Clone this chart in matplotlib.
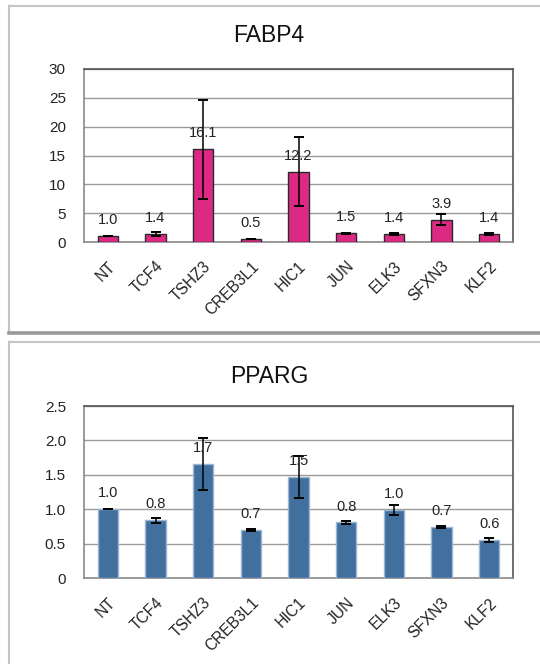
import matplotlib
matplotlib.use("Agg")
import matplotlib.pyplot as plt
from matplotlib.lines import Line2D

plt.rcParams['font.family'] = ['Liberation Sans', 'DejaVu Sans']

genes = ["NT", "TCF4", "TSHZ3", "CREB3L1", "HIC1", "JUN", "ELK3", "SFXN3", "KLF2"]

fabp4_values = [1.0, 1.4, 16.1, 0.5, 12.2, 1.5, 1.4, 3.9, 1.4]
fabp4_errors = [0.0, 0.35, 8.6, 0.05, 6.0, 0.05, 0.15, 1.0, 0.1]
fabp4_ticks = [0, 5, 10, 15, 20, 25, 30]
fabp4_ticklabels = ["0", "5", "10", "15", "20", "25", "30"]

pparg_values = [1.0, 0.84, 1.66, 0.70, 1.47, 0.81, 0.99, 0.74, 0.56]
pparg_errors = [0.0, 0.035, 0.38, 0.02, 0.31, 0.025, 0.07, 0.015, 0.03]
pparg_ticks = [0, 0.5, 1.0, 1.5, 2.0, 2.5]
pparg_ticklabels = ["0", "0.5", "1.0", "1.5", "2.0", "2.5"]

W, H = 540, 664
fig = plt.figure(figsize=(W / 100, H / 100), dpi=100)


def fx(px):
    return px / W


def fy(py):
    return 1 - py / H


def panel(rect_px, title, title_y, values, errors, ticks, ticklabels,
          face, edge):
    x0, y0, x1, y1 = rect_px
    ax = fig.add_axes([fx(x0), fy(y1), fx(x1) - fx(x0), fy(y0) - fy(y1)])
    pos = list(range(len(genes)))
    ax.bar(pos, values, width=0.42, color=face, edgecolor=edge,
           linewidth=1.0, zorder=3)
    ax.errorbar(pos, values, yerr=errors, fmt='none', ecolor='black',
                elinewidth=1.1, capsize=3.3, capthick=1.4, zorder=4)
    for p, v in zip(pos, values):
        ax.annotate(f"{v:.1f}", (p, v), xytext=(0, 11.5),
                    textcoords='offset points', ha='center', va='center',
                    fontsize=10.5, color='#222222', zorder=5)
    ax.set_xlim(-0.5, len(genes) - 0.5)
    ax.set_ylim(ticks[0], ticks[-1])
    ax.set_yticks(ticks)
    ax.set_yticklabels(ticklabels, fontsize=11, color='#222222')
    ax.set_xticks(pos)
    ax.set_xticklabels(genes, rotation=45, ha='right', va='top',
                       rotation_mode='anchor', fontsize=11.2, color='#222222')
    ax.tick_params(axis='both', length=0)
    ax.tick_params(axis='y', pad=13)
    ax.tick_params(axis='x', pad=12)
    ax.yaxis.grid(True, color='#9a9a9a', linewidth=1.0, zorder=0)
    ax.set_axisbelow(True)
    ax.spines['top'].set_color('#555555')
    ax.spines['right'].set_color('#555555')
    ax.spines['left'].set_color('#8a8a8a')
    ax.spines['bottom'].set_color('#8a8a8a')
    for s in ax.spines.values():
        s.set_linewidth(1.2)
    fig.text(fx(269), fy(title_y), title, ha='center', va='center',
             fontsize=16.5, color='#111111')
    return ax


panel((84, 69, 513, 242), "FABP4", 35, fabp4_values, fabp4_errors,
      fabp4_ticks, fabp4_ticklabels, '#DC2A84', '#2a2a2a')
panel((84, 406, 513, 578.3), "PPARG", 377, pparg_values, pparg_errors,
      pparg_ticks, pparg_ticklabels, '#41709F', '#9db6d3')

# panel frames
frame_light = '#c4c4c4'
fig.add_artist(Line2D([fx(9), fx(540)], [fy(6), fy(6)], color=frame_light, lw=1.5))
fig.add_artist(Line2D([fx(9), fx(9)], [fy(6), fy(332)], color=frame_light, lw=1.5))
fig.add_artist(Line2D([fx(9), fx(540)], [fy(332.5), fy(332.5)], color='#999999', lw=2.6))
fig.add_artist(Line2D([fx(9), fx(540)], [fy(342), fy(342)], color=frame_light, lw=1.5))
fig.add_artist(Line2D([fx(9), fx(9)], [fy(342), fy(664)], color=frame_light, lw=1.5))

fig.savefig("out.png", dpi=100, facecolor='white')
